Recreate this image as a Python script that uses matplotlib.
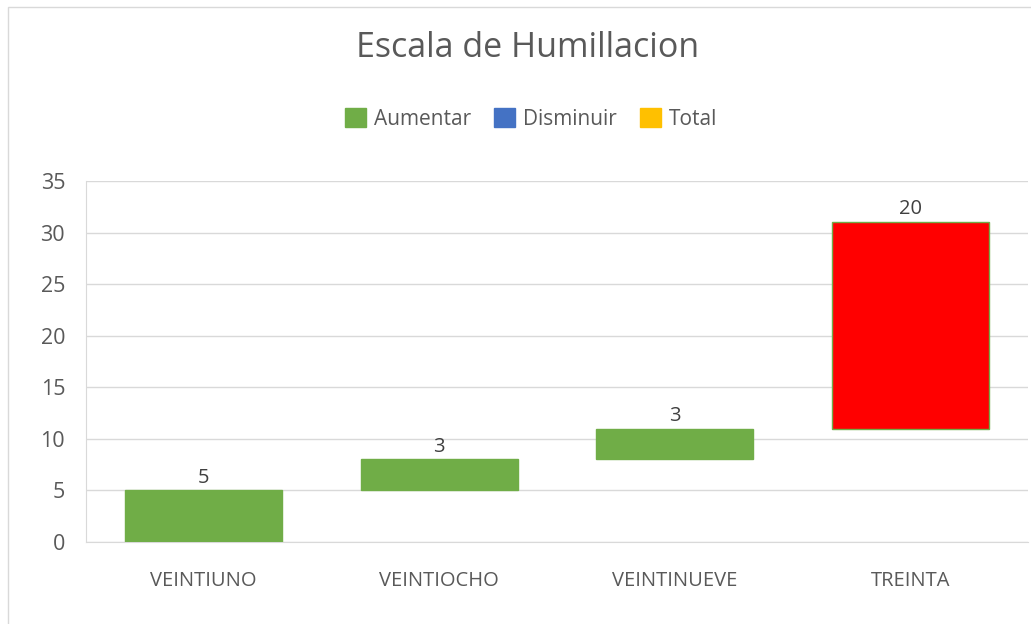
import numpy as np
import matplotlib.pyplot as plt
from matplotlib.patches import Patch, Rectangle

plt.rcParams['font.family'] = ['Open Sans', 'DejaVu Sans']

# waterfall data
categorias = ['VEINTIUNO', 'VEINTIOCHO', 'VEINTINUEVE', 'TREINTA']
cambios = [5, 3, 3, 20]
colores = ['#70AD47', '#70AD47', '#70AD47', '#FF0000']
leyenda = ['Aumentar', 'Disminuir', 'Total']
leyenda_colores = ['#70AD47', '#4472C4', '#FFC000']

texto = '#595959'
bases = np.concatenate([[0], np.cumsum(cambios)[:-1]])
x = np.arange(len(categorias))

fig = plt.figure(figsize=(10.31, 6.24), dpi=100)
fig.patches.append(Rectangle((8/1031, -0.1), 1.2, (1 - 7/624) + 0.1, transform=fig.transFigure,
                             fill=False, edgecolor='#D9D9D9', linewidth=1))
ax = fig.add_axes([86/1031, 1 - 542/624, 942/1031, 361/624])

ax.bar(x, cambios, bottom=bases, width=0.667, color=colores, edgecolor='#70AD47', linewidth=1, zorder=3)
for xi, b, c in zip(x, bases, cambios):
    ax.annotate(str(c), (xi, b + c), xytext=(0, 2), textcoords='offset points',
                ha='center', va='bottom', fontsize=14.5, color='#404040')

ax.set_xlim(-0.5, len(categorias) - 0.5)
ax.set_ylim(0, 35)
ax.set_yticks(range(0, 36, 5))
ax.set_xticks(x)
ax.set_xticklabels(categorias)
ax.tick_params(axis='x', length=0, pad=21, labelsize=14.5, labelcolor=texto)
ax.tick_params(axis='y', length=0, pad=15, labelsize=15.5, labelcolor=texto)
ax.grid(axis='y', color='#D9D9D9', linewidth=1, zorder=0)
for s in ['top', 'right']:
    ax.spines[s].set_visible(False)
for s in ['left', 'bottom']:
    ax.spines[s].set_color('#D9D9D9')

fig.text(0.512, 1 - 48/624, 'Escala de Humillacion', ha='center', va='center', fontsize=24.5, color=texto)
handles = [Patch(facecolor=c, edgecolor=c) for c in leyenda_colores]
fig.legend(handles, leyenda, loc='center', bbox_to_anchor=(0.515, 1 - 119/624), ncol=3, frameon=False,
           fontsize=15, labelcolor=texto, handlelength=1.0, handleheight=1.0, handletextpad=0.4,
           columnspacing=1.1)

fig.savefig('out.png', dpi=100)
